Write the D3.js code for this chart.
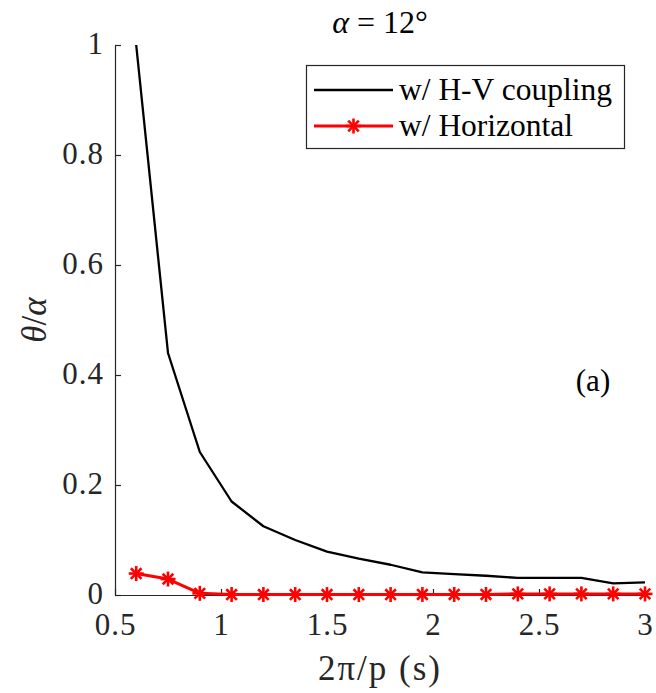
<!DOCTYPE html>
<html>
<head>
<meta charset="utf-8">
<script src="https://cdn.jsdelivr.net/npm/d3@7"></script>
<style>
  html, body { margin: 0; padding: 0; background: #fff; }
  svg { display: block; }
  svg text { font-family: "Liberation Serif", "Times New Roman", Tinos, Times, "DejaVu Serif", serif; }
</style>
</head>
<body>
<svg id="chart" width="656" height="693"></svg>
<script>
// Normalised angle vs. forcing period
const periods = [0.6, 0.75, 0.9, 1.05, 1.2, 1.35, 1.5, 1.65, 1.8, 1.95, 2.1, 2.25, 2.4, 2.55, 2.7, 2.85, 3.0];
const coupled = [1.0, 0.44, 0.26, 0.17, 0.125, 0.10, 0.079, 0.066, 0.055, 0.041, 0.038, 0.035, 0.031, 0.031, 0.031, 0.021, 0.023];
const horizontal = [0.039, 0.029, 0.003, 0.0008, 0.0008, 0.0008, 0.0008, 0.0008, 0.0008, 0.001, 0.001, 0.001, 0.002, 0.002, 0.002, 0.002, 0.002];
const xTicks = [0.5, 1, 1.5, 2, 2.5, 3];
const yTicks = [0, 0.2, 0.4, 0.6, 0.8, 1];
const seriesNames = ["w/ H-V coupling", "w/ Horizontal"];

const serif = '"Liberation Serif", "Times New Roman", Tinos, Times, "DejaVu Serif", serif';
const svg = d3.select("#chart");
const margin = { left: 115, right: 11, top: 45, bottom: 98 };
const W = 656, H = 693;

const x = d3.scaleLinear().domain([0.5, 3]).range([margin.left, W - margin.right]);
const y = d3.scaleLinear().domain([0, 1]).range([H - margin.bottom, margin.top]);

const axisColor = "#262626";

// x axis (ticks pointing inward)
const gx = svg.append("g")
  .attr("transform", `translate(0,${y(0)})`)
  .call(d3.axisBottom(x).tickValues(xTicks).tickFormat(d3.format("")).tickSizeInner(-6).tickSizeOuter(0).tickPadding(18));
// y axis
const gy = svg.append("g")
  .attr("transform", `translate(${x(0.5)},0)`)
  .call(d3.axisLeft(y).tickValues(yTicks).tickFormat(d3.format("")).tickSizeInner(-6).tickSizeOuter(0).tickPadding(11));

[gx, gy].forEach(g => {
  g.attr("font-family", serif);
  g.select(".domain").attr("stroke", axisColor).attr("stroke-width", 1.2);
  g.selectAll(".tick line").attr("stroke", axisColor).attr("stroke-width", 1.2);
  g.selectAll(".tick text").attr("fill", axisColor).style("font-size", "31px")
    .style("letter-spacing", "1px")
    .style("font-family", serif);
});
gy.selectAll(".tick text").attr("dy", "0.28em");

// black curve
const line = d3.line().x((d, i) => x(periods[i])).y(d => y(d));
svg.append("path")
  .datum(coupled)
  .attr("fill", "none")
  .attr("stroke", "#000")
  .attr("stroke-width", 2.3)
  .attr("stroke-linejoin", "round")
  .attr("d", line);

// red curve with asterisk markers
svg.append("path")
  .datum(horizontal)
  .attr("fill", "none")
  .attr("stroke", "#ff0000")
  .attr("stroke-width", 3)
  .attr("stroke-linejoin", "round")
  .attr("d", line);

function asterisk(g, cx, cy, r) {
  const s = g.append("g").attr("transform", `translate(${cx},${cy})`);
  const d = r * Math.SQRT1_2;
  const segs = [[-r, 0, r, 0], [0, -r, 0, r], [-d, -d, d, d], [-d, d, d, -d]];
  segs.forEach(p => s.append("line")
    .attr("x1", p[0]).attr("y1", p[1]).attr("x2", p[2]).attr("y2", p[3])
    .attr("stroke", "#ff0000").attr("stroke-width", 2.6));
}
const markers = svg.append("g");
horizontal.forEach((v, i) => asterisk(markers, x(periods[i]), y(v), 7.5));

// title
svg.append("text")
  .attr("x", 380).attr("y", 33)
  .attr("text-anchor", "middle")
  .style("font-size", "32px")
  .html('<tspan font-style="italic">α</tspan> = 12°');

// panel tag
svg.append("text")
  .attr("x", 593).attr("y", 391)
  .attr("text-anchor", "middle")
  .style("font-size", "31px")
  .text("(a)");

// axis labels
svg.append("text")
  .attr("x", (x(0.5) + x(3)) / 2).attr("y", 680)
  .attr("text-anchor", "middle")
  .style("font-size", "35px")
  .style("letter-spacing", "2px")
  .attr("fill", axisColor)
  .text("2π/p (s)");

svg.append("text")
  .attr("transform", `translate(46,${(y(0) + y(1)) / 2}) rotate(-90)`)
  .attr("text-anchor", "middle")
  .style("font-size", "35px")
  .attr("fill", axisColor)
  .html('<tspan font-style="italic">θ</tspan>/<tspan font-style="italic">α</tspan>');

// legend
const lg = svg.append("g");
lg.append("rect")
  .attr("x", 306.5).attr("y", 65.5).attr("width", 318).attr("height", 83)
  .attr("fill", "#fff").attr("stroke", axisColor).attr("stroke-width", 1.2);
const rows = [90, 126];
lg.append("line").attr("x1", 314).attr("x2", 393).attr("y1", rows[0]).attr("y2", rows[0])
  .attr("stroke", "#000").attr("stroke-width", 2.3);
lg.append("line").attr("x1", 314).attr("x2", 393).attr("y1", rows[1]).attr("y2", rows[1])
  .attr("stroke", "#ff0000").attr("stroke-width", 3);
asterisk(lg, 353.5, rows[1], 7.5);
seriesNames.forEach((name, i) => {
  lg.append("text")
    .attr("x", 399).attr("y", rows[i] + 10)
    .style("font-size", "31.5px")
    .text(name);
});
</script>
</body>
</html>
